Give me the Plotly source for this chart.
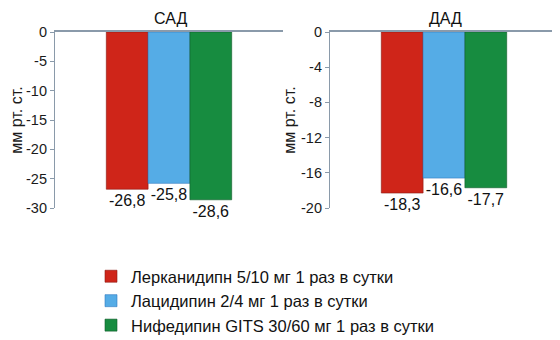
import plotly.graph_objects as go

series_names = ["Лерканидипн 5/10 мг 1 раз в сутки",
                "Лацидипин 2/4 мг 1 раз в сутки",
                "Нифедипин GITS 30/60 мг 1 раз в сутки"]
sad_values = [-26.8, -25.8, -28.6]
dad_values = [-18.3, -16.6, -17.7]
panel_titles = ["САД", "ДАД"]
sad_ticks = [0, -5, -10, -15, -20, -25, -30]
dad_ticks = [0, -4, -8, -12, -16, -20]
y_title = "мм рт. ст."
colors = ["#cf2519", "#55ace6", "#178c40"]
lines = ["#8a1a12", "#2f78c0", "#0d5a28"]

# page body has an 8px margin; map reference pixel coordinates onto the figure
OFF = 8
W, H = 560 - OFF, 340 - OFF
def fx(px): return (px - OFF) / W
def fy(py): return 1 - (py - OFF) / H

font = "Liberation Sans, Arial, sans-serif"
fig = go.Figure()
for i, name in enumerate(series_names):
    fig.add_trace(go.Bar(x=[panel_titles[0]], y=[sad_values[i]], name=name,
                         marker=dict(color=colors[i], line=dict(color=lines[i], width=0.6)),
                         text=[str(sad_values[i]).replace(".", ",")], textposition="outside",
                         textfont=dict(size=16, color="#111"), cliponaxis=False,
                         legendgroup=name, xaxis="x", yaxis="y"))
    fig.add_trace(go.Bar(x=[panel_titles[1]], y=[dad_values[i]], name=name,
                         marker=dict(color=colors[i], line=dict(color=lines[i], width=0.6)),
                         text=[str(dad_values[i]).replace(".", ",")], textposition="outside",
                         textfont=dict(size=16, color="#111"), cliponaxis=False,
                         legendgroup=name, showlegend=False, xaxis="x2", yaxis="y2"))

axis_common = dict(showgrid=False, zeroline=False, showline=True, linecolor="#8a9aaa",
                   linewidth=1.2, ticks="outside", ticklen=4, tickcolor="#8a9aaa",
                   tickfont=dict(size=14.5, color="#1a1a1a", family=font), automargin=False)
xcommon = dict(showgrid=False, zeroline=False, showline=True, linecolor="#8a9aaa",
               linewidth=1.5, side="top", showticklabels=False, ticks="", automargin=False)

fig.update_layout(
    width=W, height=H, margin=dict(l=0, r=0, t=0, b=0, autoexpand=False),
    paper_bgcolor="white", plot_bgcolor="white",
    barmode="group", bargap=0.45, bargroupgap=0,
    font=dict(family=font, color="#222"),
    xaxis=dict(domain=[fx(55), fx(283)], anchor="y", **xcommon),
    xaxis2=dict(domain=[fx(330), fx(558)], anchor="y2", **xcommon),
    yaxis=dict(domain=[fy(208), fy(32)], range=[-30, 0], tickvals=sad_ticks,
               ticktext=[str(t) for t in sad_ticks], anchor="x",
               title=dict(text=y_title, font=dict(size=16, color="#1a1a1a"), standoff=1),
               **axis_common),
    yaxis2=dict(domain=[fy(208), fy(32)], range=[-20, 0], tickvals=dad_ticks,
                ticktext=[str(t) for t in dad_ticks], anchor="x2",
                title=dict(text=y_title, font=dict(size=16, color="#1a1a1a"), standoff=1),
                **axis_common),
    legend=dict(x=fx(91), y=fy(259), xanchor="left", yanchor="top",
                font=dict(size=16.5, color="#111", family=font), tracegroupgap=0,
                itemwidth=30, bgcolor="rgba(0,0,0,0)"),
    annotations=[
        dict(text=panel_titles[0], x=fx(170), y=fy(18), xref="paper", yref="paper",
             xanchor="center", yanchor="middle",
             showarrow=False, font=dict(size=16, color="#111")),
        dict(text=panel_titles[1], x=fx(445), y=fy(18), xref="paper", yref="paper",
             xanchor="center", yanchor="middle",
             showarrow=False, font=dict(size=16, color="#111")),
    ],
)
fig.write_html("out.html")
